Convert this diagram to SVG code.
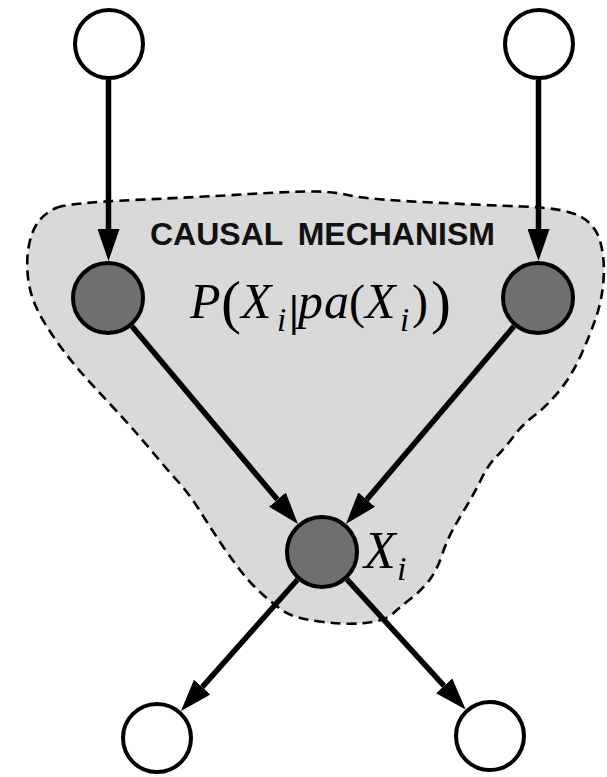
<svg xmlns="http://www.w3.org/2000/svg" width="607" height="777" viewBox="0 0 607 777">
<style>
.blob{fill:#d9d9d9;stroke:#000;stroke-width:2.6;stroke-dasharray:10,6}
.open{fill:#fff;stroke:#000;stroke-width:4}
.dark{fill:#6f6f6f;stroke:#000;stroke-width:4}
.edge{stroke:#000;stroke-width:5.5;fill:none;marker-end:url(#ah)}
.math{font-family:"Liberation Serif","DejaVu Serif",serif;fill:#000}
.it{font-style:italic}
.title{font-family:"Liberation Sans",Arial,sans-serif;font-weight:bold;font-size:32px;fill:#111;word-spacing:6px}
</style>
<defs>
<marker id="ah" markerUnits="userSpaceOnUse" markerWidth="32" markerHeight="22" refX="0" refY="11" orient="auto" viewBox="0 0 32 22">
<path d="M0,0 L32,11 L0,22 Z" fill="#000"/>
</marker>
</defs>
<rect width="607" height="777" fill="#fff"/>
<g id="mechanism">
<path class="blob" d="M 56,208 Q 67,203 133.5,200 Q 200,197 250,194 Q 300,191 317.5,191.5 Q 335,192 350,195.5 Q 365,199 422.5,202 Q 480,205 522.5,206.5 Q 565,208 580.5,216.5 Q 596,225 600.5,242.5 Q 605,260 603.5,280 Q 602,300 596,317.5 Q 590,335 581,355 Q 572,375 560,390 Q 548,405 535,415 Q 522,425 513.5,436.5 Q 505,448 496.5,456.5 Q 488,465 481.5,478.5 Q 475,492 467.5,504.5 Q 460,517 453.5,528.5 Q 447,540 442,555 Q 437,570 429.5,580 Q 422,590 411,598.5 Q 400,607 392.5,614 Q 385,621 365,623 Q 345,625 319,621.5 Q 293,618 282.5,610.5 Q 272,603 261,593 Q 250,583 240,570 Q 230,557 220,542 Q 210,527 200,511 Q 190,495 177.5,481 Q 165,467 155,455 Q 145,443 135,431.5 Q 125,420 110,404 Q 95,388 82.5,374 Q 70,360 57.5,342.5 Q 45,325 37.5,310 Q 30,295 28,277.5 Q 26,260 29,245 Q 32,230 38.5,221.5 Q 45,213 56,208 Z"/>
<text class="title" x="150" y="245">CAUSAL MECHANISM</text>
<text id="formula" class="math" font-size="50"><tspan class="it" x="190" y="318">P</tspan><tspan x="221" y="322" font-size="60">(</tspan><tspan class="it" x="241" y="318">X</tspan><tspan class="it" x="277" y="331" font-size="33">i</tspan><tspan x="289" y="326" font-size="44" font-weight="bold">|</tspan><tspan class="it" x="298" y="318">p</tspan><tspan class="it" x="324" y="318">a</tspan><tspan x="349" y="318" font-size="48">(</tspan><tspan class="it" x="365" y="318">X</tspan><tspan class="it" x="400" y="331" font-size="33">i</tspan><tspan x="412" y="318" font-size="48">)</tspan><tspan x="431" y="322" font-size="60">)</tspan></text>
</g>
<g id="connectors">
<line class="edge" x1="108.5" y1="80" x2="108.5" y2="229"/>
<line class="edge" x1="538.5" y1="80" x2="538.5" y2="229"/>
<line class="edge" x1="131.9" y1="326.3" x2="277.4" y2="499.6"/>
<line class="edge" x1="514" y1="326.2" x2="366.7" y2="499.6"/>
<line class="edge" x1="297.4" y1="579.7" x2="202.2" y2="687.1"/>
<line class="edge" x1="347" y1="579.3" x2="444.1" y2="685.8"/>
</g>
<g id="top-left"><circle class="open" cx="109" cy="44" r="34"/></g>
<g id="top-right"><circle class="open" cx="539" cy="44" r="34"/></g>
<g id="parent-left"><circle class="dark" cx="108" cy="298" r="35"/></g>
<g id="parent-right"><circle class="dark" cx="538" cy="298" r="35"/></g>
<g id="xi"><circle class="dark" cx="322" cy="552" r="35"/>
<text class="math" font-size="52"><tspan class="it" x="364" y="568">X</tspan><tspan class="it" x="397" y="580" font-size="34">i</tspan></text>
</g>
<g id="bottom-left"><circle class="open" cx="157" cy="738" r="34"/></g>
<g id="bottom-right"><circle class="open" cx="490" cy="736" r="34"/></g>
</svg>
